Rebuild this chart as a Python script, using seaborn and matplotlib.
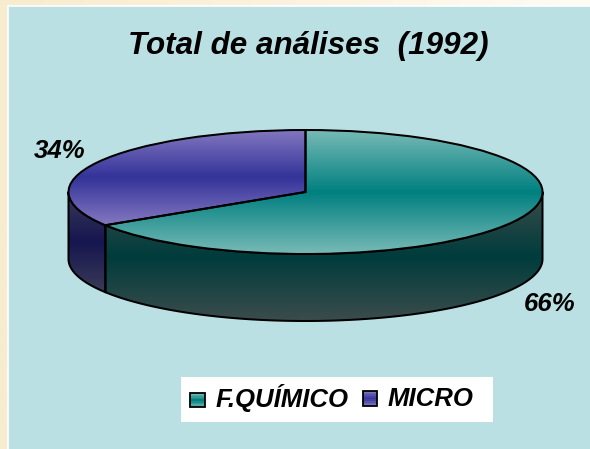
import numpy as np
import matplotlib
matplotlib.use("Agg")
import matplotlib.pyplot as plt
from matplotlib.colors import LinearSegmentedColormap as LSC
from matplotlib.legend_handler import HandlerBase
from matplotlib.patches import Polygon, Rectangle
import seaborn as sns

categories = ["F.QUÍMICO", "MICRO"]
shares = [66, 34]
title_text = "Total de análises  (1992)"

top_colors = [("#78bab6", "#008080"), ("#8478c0", "#333399")]
side_colors = [("#3c4c4c", "#003c3c"), ("#3a3a58", "#161650")]

W, H = 590, 449
CX, CY, RX, RY, DEPTH = 305.5, 192.0, 237.0, 62.0, 67.0
EDGE = 1.45


def dx(px):
    return (px - CX) / RX


def dy(py):
    return (CY - py) / RY


sns.set_theme(style="white")
plt.rcParams["font.family"] = ["Liberation Sans", "DejaVu Sans"]

fig = plt.figure(figsize=(W / 100, H / 100), dpi=100)
ax = fig.add_axes([0, 0, 1, 1])

wedges, _ = ax.pie(shares, colors=[c[1] for c in top_colors], startangle=90,
                   counterclock=False, radius=1, center=(0, 0),
                   wedgeprops=dict(edgecolor="black", linewidth=EDGE, zorder=6))
ax.set_aspect("auto")
ax.set_axis_off()

# page background
cream = LSC.from_list("cream", ["#f7ecce", "#fbf3df", "#fffcf6"])
ax.imshow(np.linspace(0, 1, 256)[None, :], cmap=cream, aspect="auto",
          extent=(dx(0), dx(W), dy(H), dy(0)), zorder=0)
ax.add_patch(Rectangle((dx(8), dy(H + 5)), dx(W + 5) - dx(8), dy(6) - dy(H + 5),
                       facecolor="#bbe0e3", edgecolor="white", linewidth=1.2, zorder=1))


def v_gradient(low, mid, y0, y1, clip, z):
    cmap = LSC.from_list("g", [low, mid, low])
    im = ax.imshow(np.linspace(0, 1, 256)[:, None], cmap=cmap, aspect="auto",
                   extent=(dx(0), dx(W), y0, y1), origin="lower", zorder=z)
    im.set_clip_path(clip)
    return im


depth_units = DEPTH / RY
for wedge, (tlow, tmid), (slow, smid) in zip(wedges, top_colors, side_colors):
    # side wall: visible (front) part of the slice
    lo, hi = max(wedge.theta1, -180.0), min(wedge.theta2, 0.0)
    t = np.radians(np.linspace(lo, hi, 120))
    upper = np.column_stack([np.cos(t), np.sin(t)])
    lower = upper[::-1] - [0, depth_units]
    wall = Polygon(np.vstack([upper, lower]), closed=True, facecolor="none",
                   edgecolor="black", linewidth=EDGE, joinstyle="round", zorder=4)
    ax.add_patch(wall)
    bb = wedge.get_path().transformed(wedge.get_patch_transform()).get_extents()
    v_gradient(slow, smid, lower[:, 1].min(), min((bb.y0 + bb.y1) / 2, 0.0), wall, 3)
    # top face
    wedge.set_facecolor("none")
    v_gradient(tlow, tmid, bb.y0, bb.y1, wedge, 5)

ax.set_xlim(dx(0), dx(W))
ax.set_ylim(dy(H), dy(0))

ax.text(dx(308.5), dy(46), title_text, fontsize=22.6, fontweight="bold", style="italic",
        ha="center", va="center", color="black", zorder=8)
label_style = dict(fontsize=18.5, fontweight="bold", style="italic", ha="center",
                   va="center", color="black", zorder=8)
ax.text(dx(60), dy(151), f"{shares[1]}%", **label_style)
ax.text(dx(550), dy(304), f"{shares[0]}%", **label_style)


class GradientHandle(HandlerBase):
    def __init__(self, low, mid, drop):
        super().__init__()
        self.low, self.mid, self.drop = low, mid, drop

    def create_artists(self, legend, orig, xd, yd, width, height, fontsize, trans):
        cmap = LSC.from_list("g", [self.low, self.mid, self.low])
        side = 10.4
        x0 = (width - side) / 2 - xd
        y0 = (height - side) / 2 - yd - self.drop
        n = 9
        arts = [Rectangle((x0, y0 + i * side / n), side, side / n, transform=trans,
                          facecolor=cmap((i + .5) / n), edgecolor="none") for i in range(n)]
        arts.append(Rectangle((x0, y0), side, side, transform=trans, facecolor="none",
                              edgecolor="black", linewidth=1.3))
        return arts


ax.add_patch(Rectangle((dx(181), dy(422)), dx(493) - dx(181), dy(377) - dy(422),
                       facecolor="white", edgecolor="none", zorder=7))
drops = [1.2, 0.0]
leg = ax.legend(wedges, categories, loc="center left", ncol=2,
                bbox_to_anchor=(190 / W, 1 - 398.5 / H), bbox_transform=fig.transFigure,
                handler_map={w: GradientHandle(*c, d) for w, c, d in zip(wedges, top_colors, drops)},
                frameon=False, labelcolor="black",
                prop=dict(family="Liberation Sans", size=18.5, weight="bold", style="italic"),
                handlelength=0.58, handletextpad=0.4, columnspacing=0.55, borderpad=0,
                borderaxespad=0)
leg.set_zorder(8)
leg.get_texts()[1].set_y(1.6)

fig.savefig("out.png", dpi=100)
